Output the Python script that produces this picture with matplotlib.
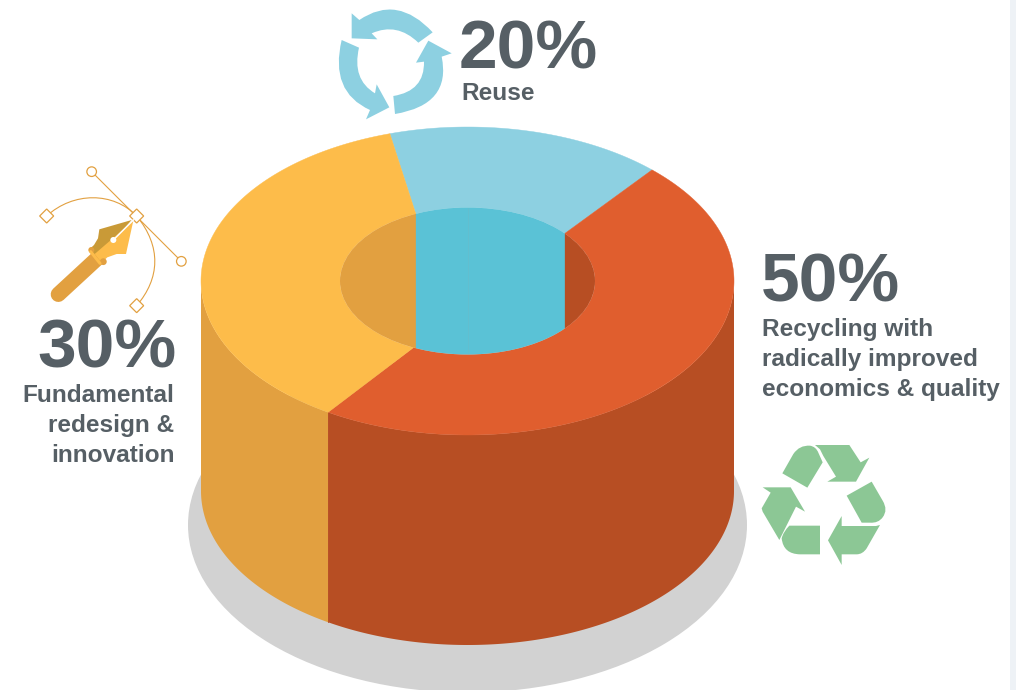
import numpy as np
import matplotlib
matplotlib.use("Agg")
import matplotlib.pyplot as plt
from matplotlib.patches import Ellipse, Polygon, Circle, Rectangle, PathPatch
from matplotlib.path import Path

plt.rcParams['font.family'] = ['Liberation Sans', 'DejaVu Sans']

# ---- data ----
labels = ["Reuse", "Recycling with\nradically improved\neconomics & quality",
          "Fundamental\nredesign &\ninnovation"]
shares = [20, 50, 30]

# ---- colours ----
TOP_COLORS = ["#8DD0E1", "#E05E2E", "#FDBC4A"]
WALL_COLORS = ["#5AC2D6", "#B74E23", "#E2A040"]
SHADOW = "#D2D2D2"
TEXT = "#565F65"
GREEN = "#8CC795"
BAND = "#EEF2F6"

# ---- cylinder geometry (pixels) ----
CX, CY = 467.5, 281
RX_OUT, RY_OUT = 266.5, 154
RX_IN, RY_IN = 127.5, 73.5
DEPTH = 210
START = -33.5     # degrees clockwise from the back of the disc
INNER_TWIST = -0.5
# vanishing point of the slice edges, for the outer and inner rims
VP_OUT = (0.245, 0.142)
VP_IN = (0.2276, -0.054)


def rim(theta_deg, rx, ry, vp):
    """Point(s) on a rim for a disc angle, seen in perspective."""
    t = np.radians(theta_deg)
    ux, uy = np.sin(t), np.cos(t)
    v = np.hypot(*vp)
    dx, dy = vp[0] / v, vp[1] / v
    a = ux * dx + uy * dy
    b = -ux * dy + uy * dx
    den = 1 + v * a
    a2 = (a + v) / den
    b2 = b * np.sqrt(1 - v * v) / den
    x = a2 * dx - b2 * dy
    y = a2 * dy + b2 * dx
    return CX + rx * x, CY - ry * y


fig = plt.figure(figsize=(10.16, 6.9), dpi=100)
ax = fig.add_axes([0, 0, 1, 1])
ax.set_xlim(0, 1016)
ax.set_ylim(690, 0)
ax.axis("off")

ax.add_patch(Rectangle((1010, 0), 6, 690, color=BAND, lw=0))
ax.add_patch(Ellipse((CX, 525), 559, 335, color=SHADOW, lw=0, zorder=1))

# slice edges in disc angles, from the percentages
edges = START + np.cumsum([0] + shares) * 3.6
edges_in = edges + INNER_TWIST

for i in range(len(shares)):
    th = np.linspace(edges[i], edges[i + 1], 800)
    th_in = np.linspace(edges_in[i], edges_in[i + 1], 800)
    ox, oy = rim(th, RX_OUT, RY_OUT, VP_OUT)
    ix, iy = rim(th_in, RX_IN, RY_IN, VP_IN)

    # side wall: only the front part of the rim is visible
    front = oy >= CY
    if front.any():
        wx, wy = ox[front], oy[front]
        ax.add_patch(Polygon(np.r_[np.c_[wx, wy], np.c_[wx[::-1], wy[::-1] + DEPTH]],
                             closed=True, fc=WALL_COLORS[i], ec="none", zorder=2))

    ax.add_patch(Polygon(np.r_[np.c_[ox, oy], np.c_[ix[::-1], iy[::-1]]],
                         closed=True, fc=TOP_COLORS[i], ec=TOP_COLORS[i], lw=0.3,
                         joinstyle="round", zorder=3))

# vertical join between the visible walls
sx, sy = rim(edges[2], RX_OUT, RY_OUT, VP_OUT)
ax.plot([sx, sx], [sy, sy + DEPTH], color=WALL_COLORS[1], lw=0.6, zorder=2)

# hole: far wall seen through the ring, split where the slice edges meet the inner rim
hole = Ellipse((CX, CY), 2 * RX_IN, 2 * RY_IN, fc="none", ec="none", zorder=4)
ax.add_patch(hole)
x_left = rim(edges_in[0], RX_IN, RY_IN, VP_IN)[0]
x_right = rim(edges_in[1], RX_IN, RY_IN, VP_IN)[0]
hole_spans = [(CX - RX_IN - 2, x_left, WALL_COLORS[2]),
              (x_left, x_right, WALL_COLORS[0]),
              (x_right, CX + RX_IN + 2, WALL_COLORS[1])]
for x0, x1, c in hole_spans:
    r = Rectangle((x0, CY - RY_IN - 2), x1 - x0, 2 * RY_IN + 4, fc=c, ec=c, lw=0.2, zorder=4)
    ax.add_patch(r)
    r.set_clip_path(hole)
seam = ax.plot([CX, CX], [CY - RY_IN, CY + RY_IN], color="#6FB9C6", lw=0.5, alpha=0.6, zorder=5)[0]
seam.set_clip_path(hole)

# ---- text ----
BIG = 50
SMALL = 17.6
big_kw = dict(fontsize=BIG, fontweight="bold", color=TEXT, va="baseline", zorder=6)
ax.text(459, 68.5, f"{shares[0]}%", ha="left", **big_kw)
ax.text(761, 302, f"{shares[1]}%", ha="left", **big_kw)
ax.text(177, 368, f"{shares[2]}%", ha="right", **big_kw)

small_kw = dict(fontsize=SMALL, fontweight="bold", color=TEXT, va="baseline", zorder=6)
ax.text(461, 100, labels[0], ha="left", **small_kw)
for n, line in enumerate(labels[1].split("\n")):
    ax.text(762, 336 + 30 * n, line, ha="left", **small_kw)
for n, line in enumerate(labels[2].split("\n")):
    ax.text(174.5, 402 + 30 * n, line, ha="right", **small_kw)


# ---- icons ----
def shape(items, ox, oy, color, z=6):
    """Outline from (x, y) line steps and (cx, cy, x, y) curve steps, in thirds of a pixel."""
    verts, codes = [], []
    for k, it in enumerate(items):
        pts = [(ox + it[j] / 3.0, oy + it[j + 1] / 3.0) for j in range(0, len(it), 2)]
        verts += pts
        if k == 0:
            codes.append(Path.MOVETO)
        elif len(it) == 2:
            codes.append(Path.LINETO)
        else:
            codes += [Path.CURVE3, Path.CURVE3]
    verts.append(verts[0])
    codes.append(Path.CLOSEPOLY)
    ax.add_patch(PathPatch(Path(verts, codes), fc=color, ec="none", zorder=z))


# circular arrows
ARROW_BLUE = "#8DD0E1"
shape([(95, 40), (118, 60), (232, -18, 338, 97), (295, 128), (231, 66, 155, 100),
       (172, 118), (95, 115)], 320, 0, ARROW_BLUE)
shape([(65, 120), (117, 143), (95, 238, 165, 280), (170, 253), (208, 322), (138, 358),
       (150, 330), (28, 275, 65, 120)], 320, 0, ARROW_BLUE)
shape([(395, 160), (365, 170), (395, 314, 225, 342), (220, 288), (314, 273, 312, 185),
       (288, 188), (325, 122)], 320, 0, ARROW_BLUE)

# recycling symbol
shape([(97, 130), (130, 72), (148, 45, 180, 47), (198, 50, 205, 68), (218, 97), (172, 173)],
      750, 430, GREEN)
shape([(195, 45), (298, 45), (332, 97), (358, 83), (318, 155), (232, 155), (258, 140),
       (220, 78), (210, 58)], 750, 430, GREEN)
shape([(365, 155), (398, 212), (415, 240, 398, 262), (385, 280, 360, 278), (335, 278), (290, 197)],
      750, 430, GREEN)
shape([(390, 285), (350, 355), (338, 373, 320, 373), (275, 373), (275, 405), (234, 331),
       (275, 258), (275, 288), (378, 288)], 750, 430, GREEN)
shape([(210, 287), (210, 373), (150, 373), (100, 372, 95, 325), (100, 305, 118, 287)],
      750, 430, GREEN)
shape([(38, 172), (122, 172), (165, 245), (138, 230), (88, 330), (38, 245), (35, 235), (62, 188)],
      750, 430, GREEN)

# pen tool
PEN_LINE = "#E2A040"
PEN_LIGHT = "#FDBC4A"
PEN_DARK = "#C99A37"


def pen(x, y):
    return 20 + x / 3.0, 150 + y / 3.0


curve1 = Path([pen(80, 198), pen(160, 125), pen(280, 125), pen(350, 198)],
              [Path.MOVETO, Path.CURVE4, Path.CURVE4, Path.CURVE4])
curve2 = Path([pen(350, 198), pen(425, 290), pen(420, 385), pen(350, 467)],
              [Path.MOVETO, Path.CURVE4, Path.CURVE4, Path.CURVE4])
for c in (curve1, curve2):
    ax.add_patch(PathPatch(c, fc="none", ec=PEN_LINE, lw=0.8, zorder=6))
hx0, hy0 = pen(215, 65)
hx1, hy1 = pen(484, 334)
ax.plot([hx0, hx1], [hy0, hy1], color=PEN_LINE, lw=0.8, zorder=6)
for hx, hy in ((hx0, hy0), (hx1, hy1)):
    ax.add_patch(Circle((hx, hy), 4.8, fc="white", ec=PEN_LINE, lw=0.9, zorder=7))
for dx, dy in ((80, 198), (350, 198), (350, 467)):
    px, py = pen(dx, dy)
    ax.add_patch(Polygon([(px - 7, py), (px, py - 7), (px + 7, py), (px, py + 7)], closed=True,
                         fc="white", ec=PEN_LINE, lw=0.9, zorder=7))

bx0, by0 = pen(232, 325)
bx1, by1 = pen(115, 433)
ax.plot([bx0, bx1], [by0, by1], color=PEN_LINE, lw=11, solid_capstyle="round", zorder=6)
shape([(335, 210), (238, 238), (234, 265), (222, 285), (208, 298), (240, 325)], 20, 150, PEN_DARK, z=7)
shape([(340, 212), (318, 312), (290, 312), (262, 322), (245, 338), (224, 312)], 20, 150, PEN_LIGHT, z=7)
cx0, cy0 = pen(212, 305)
cx1, cy1 = pen(240, 340)
ax.add_patch(Circle(pen(214, 300), 3, fc=PEN_LINE, ec="none", zorder=7))
ax.add_patch(Circle(pen(250, 335), 3.4, fc=PEN_LINE, ec="none", zorder=7))
ax.plot([cx0, cx1], [cy0, cy1], color=PEN_LIGHT, lw=2.2, solid_capstyle="round", zorder=8)
wx0, wy0 = pen(340, 210)
wx1, wy1 = pen(280, 270)
ax.plot([wx0, wx1], [wy0, wy1], color="white", lw=1.1, zorder=8)
ax.add_patch(Circle((wx1, wy1), 3, fc="white", ec="none", zorder=8))

fig.savefig("out.png", dpi=100, facecolor="white")
